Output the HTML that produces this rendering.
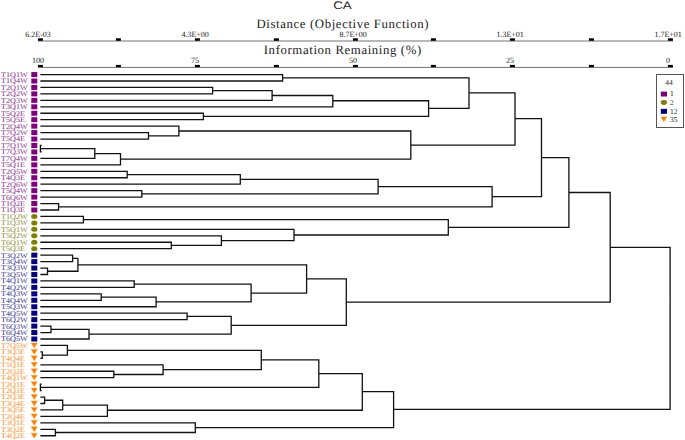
<!DOCTYPE html>
<html><head><meta charset="utf-8"><style>
html,body{margin:0;padding:0;background:#fff;width:685px;height:440px;overflow:hidden}
svg{display:block;text-rendering:geometricPrecision}
.s{font-family:"Liberation Serif",serif}
.a{font-family:"Liberation Sans",sans-serif}
</style></head><body>
<svg width="685" height="440" viewBox="0 0 685 440">
<text class="a" x="342.4" y="9" font-size="11" text-anchor="middle" textLength="18.5" lengthAdjust="spacingAndGlyphs" fill="#222">CA</text>
<text class="s" x="342.5" y="27.9" font-size="12.8" text-anchor="middle" textLength="172" lengthAdjust="spacing" fill="#222">Distance (Objective Function)</text>
<text class="s" x="342.5" y="54.2" font-size="12.8" text-anchor="middle" textLength="157.5" lengthAdjust="spacing" fill="#222">Information Remaining (%)</text>
<rect x="38" y="40.4" width="635" height="1.2" fill="#8c8c8c"/>
<rect x="38" y="66.9" width="635" height="1.1" fill="#7c7c7c"/>
<rect x="37.9" y="38.3" width="5" height="2.5" fill="#000"/>
<rect x="37.9" y="64.9" width="5" height="2.2" fill="#000"/>
<rect x="115.9" y="38.3" width="5" height="2.5" fill="#000"/>
<rect x="115.9" y="64.9" width="5" height="2.2" fill="#000"/>
<rect x="194.9" y="38.3" width="5" height="2.5" fill="#000"/>
<rect x="194.9" y="64.9" width="5" height="2.2" fill="#000"/>
<rect x="273.9" y="38.3" width="5" height="2.5" fill="#000"/>
<rect x="273.9" y="64.9" width="5" height="2.2" fill="#000"/>
<rect x="352.9" y="38.3" width="5" height="2.5" fill="#000"/>
<rect x="352.9" y="64.9" width="5" height="2.2" fill="#000"/>
<rect x="430.9" y="38.3" width="5" height="2.5" fill="#000"/>
<rect x="430.9" y="64.9" width="5" height="2.2" fill="#000"/>
<rect x="509.9" y="38.3" width="5" height="2.5" fill="#000"/>
<rect x="509.9" y="64.9" width="5" height="2.2" fill="#000"/>
<rect x="588.9" y="38.3" width="5" height="2.5" fill="#000"/>
<rect x="588.9" y="64.9" width="5" height="2.2" fill="#000"/>
<rect x="667.9" y="38.3" width="5" height="2.5" fill="#000"/>
<rect x="667.9" y="64.9" width="5" height="2.2" fill="#000"/>
<text class="s" x="38.1" y="37" font-size="8" text-anchor="middle" fill="#222">6.2E-03</text>
<text class="s" x="195.1" y="37" font-size="8" text-anchor="middle" fill="#222">4.3E+00</text>
<text class="s" x="353.1" y="37" font-size="8" text-anchor="middle" fill="#222">8.7E+00</text>
<text class="s" x="510.1" y="37" font-size="8" text-anchor="middle" fill="#222">1.3E+01</text>
<text class="s" x="668.1" y="37" font-size="8" text-anchor="middle" fill="#222">1.7E+01</text>
<text class="s" x="38.1" y="63" font-size="8" text-anchor="middle" fill="#222">100</text>
<text class="s" x="195.1" y="63" font-size="8" text-anchor="middle" fill="#222">75</text>
<text class="s" x="353.1" y="63" font-size="8" text-anchor="middle" fill="#222">50</text>
<text class="s" x="510.1" y="63" font-size="8" text-anchor="middle" fill="#222">25</text>
<text class="s" x="668.1" y="63" font-size="8" text-anchor="middle" fill="#222">0</text>
<path d="M610.2 247.32H670.1 M393.6 409.3H670.1 M670.1 247.32V409.3 M568.9 192.52H610.2 M346.3 302.11H610.2 M610.2 192.52V302.11 M541.5 157.7H568.9 M448.3 227.33H568.9 M568.9 157.7V227.33 M515 118.7H541.5 M492.1 196.7H541.5 M541.5 118.7V196.7 M469 92.8H515 M410.8 145.1H515 M515 92.8V145.1 M282.6 77.78H469 M428.6 108.35H469 M469 77.78V108.35 M41 74.55H282.6 M41 81H282.6 M282.6 74.55V81 M332.8 100.75H428.6 M203.4 116.47H428.6 M428.6 100.75V116.47 M272.1 95.51H332.8 M41 106.8H332.8 M332.8 95.51V106.8 M212.6 90.68H272.1 M41 100.35H272.1 M272.1 90.68V100.35 M41 87.45H212.6 M41 93.9H212.6 M212.6 87.45V93.9 M41 113.25H203.4 M41 119.7H203.4 M203.4 113.25V119.7 M178.9 130.99H410.8 M120.5 159.21H410.8 M410.8 130.99V159.21 M41 126.15H178.9 M148.5 135.82H178.9 M178.9 126.15V135.82 M41 132.6H148.5 M41 139.05H148.5 M148.5 132.6V139.05 M94.8 153.56H120.5 M41 164.85H120.5 M120.5 153.56V164.85 M40.4 148.72H94.8 M41 158.4H94.8 M94.8 148.72V158.4 M41 145.5H40.4 M41 151.95H40.4 M40.4 145.5V151.95 M378.1 186.62H492.1 M58.6 206.78H492.1 M492.1 186.62V206.78 M240.3 179.36H378.1 M141.8 193.88H378.1 M378.1 179.36V193.88 M127.2 174.53H240.3 M41 184.2H240.3 M240.3 174.53V184.2 M41 171.3H127.2 M41 177.75H127.2 M127.2 171.3V177.75 M41 190.65H141.8 M41 197.1H141.8 M141.8 190.65V197.1 M41 203.55H58.6 M41 210H58.6 M58.6 203.55V210 M83.4 219.67H448.3 M294 234.99H448.3 M448.3 219.67V234.99 M41 216.45H83.4 M41 222.9H83.4 M83.4 216.45V222.9 M41 229.35H294 M221.4 240.64H294 M294 229.35V240.64 M41 235.8H221.4 M171.3 245.47H221.4 M221.4 235.8V245.47 M41 242.25H171.3 M41 248.7H171.3 M171.3 242.25V248.7 M306.6 278.93H346.3 M231.2 325.29H346.3 M346.3 278.93V325.29 M77.9 264.82H306.6 M251.1 293.04H306.6 M306.6 264.82V293.04 M72.6 258.38H77.9 M47.5 271.27H77.9 M77.9 258.38V271.27 M41 255.15H72.6 M41 261.6H72.6 M72.6 255.15V261.6 M41 268.05H47.5 M41 274.5H47.5 M47.5 268.05V274.5 M134.2 284.17H251.1 M156.1 301.91H251.1 M251.1 284.17V301.91 M41 280.95H134.2 M41 287.4H134.2 M134.2 280.95V287.4 M101.2 297.08H156.1 M41 306.75H156.1 M156.1 297.08V306.75 M41 293.85H101.2 M41 300.3H101.2 M101.2 293.85V300.3 M187.1 316.42H231.2 M89 334.16H231.2 M231.2 316.42V334.16 M41 313.2H187.1 M41 319.65H187.1 M187.1 313.2V319.65 M51 329.33H89 M41 339H89 M89 329.33V339 M41 326.1H51 M41 332.55H51 M51 326.1V332.55 M362.3 391.7H393.6 M195.3 427.69H393.6 M393.6 391.7V427.69 M318.8 373.67H362.3 M107.4 410.25H362.3 M362.3 373.67V410.25 M261.3 359.96H318.8 M40.4 387.38H318.8 M318.8 359.96V387.38 M67.4 350.29H261.3 M163.1 369.64H261.3 M261.3 350.29V369.64 M41 345.45H67.4 M42.3 355.12H67.4 M67.4 345.45V355.12 M41 351.9H42.3 M41 358.35H42.3 M42.3 351.9V358.35 M41 364.8H163.1 M113.8 374.48H163.1 M163.1 364.8V374.48 M41 371.25H113.8 M41 377.7H113.8 M113.8 371.25V377.7 M41 384.15H40.4 M41 390.6H40.4 M40.4 384.15V390.6 M62.7 405.11H107.4 M41 416.4H107.4 M107.4 405.11V416.4 M44.6 400.27H62.7 M41 409.95H62.7 M62.7 400.27V409.95 M41 397.05H44.6 M41 403.5H44.6 M44.6 397.05V403.5 M41 422.85H195.3 M55.4 432.52H195.3 M195.3 422.85V432.52 M41 429.3H55.4 M41 435.75H55.4 M55.4 429.3V435.75" stroke="#111" stroke-width="1.3" fill="none" stroke-linecap="square"/>
<text class="s" x="1" y="76.95" font-size="7.2" textLength="26.71" lengthAdjust="spacingAndGlyphs" fill="#8a2a8a">T1Q1W</text>
<rect x="31.3" y="72.05" width="6" height="5" fill="#800080"/>
<text class="s" x="1" y="83.4" font-size="7.2" textLength="26.71" lengthAdjust="spacingAndGlyphs" fill="#8a2a8a">T1Q4W</text>
<rect x="31.3" y="78.5" width="6" height="5" fill="#800080"/>
<text class="s" x="1" y="89.85" font-size="7.2" textLength="26.71" lengthAdjust="spacingAndGlyphs" fill="#8a2a8a">T2Q1W</text>
<rect x="31.3" y="84.95" width="6" height="5" fill="#800080"/>
<text class="s" x="1" y="96.3" font-size="7.2" textLength="26.71" lengthAdjust="spacingAndGlyphs" fill="#8a2a8a">T2Q2W</text>
<rect x="31.3" y="91.4" width="6" height="5" fill="#800080"/>
<text class="s" x="1" y="102.75" font-size="7.2" textLength="26.71" lengthAdjust="spacingAndGlyphs" fill="#8a2a8a">T2Q3W</text>
<rect x="31.3" y="97.85" width="6" height="5" fill="#800080"/>
<text class="s" x="1" y="109.2" font-size="7.2" textLength="26.71" lengthAdjust="spacingAndGlyphs" fill="#8a2a8a">T3Q1W</text>
<rect x="31.3" y="104.3" width="6" height="5" fill="#800080"/>
<text class="s" x="1" y="115.65" font-size="7.2" textLength="23.99" lengthAdjust="spacingAndGlyphs" fill="#8a2a8a">T5Q2E</text>
<rect x="31.3" y="110.75" width="6" height="5" fill="#800080"/>
<text class="s" x="1" y="122.1" font-size="7.2" textLength="23.99" lengthAdjust="spacingAndGlyphs" fill="#8a2a8a">T5Q5E</text>
<rect x="31.3" y="117.2" width="6" height="5" fill="#800080"/>
<text class="s" x="1" y="128.55" font-size="7.2" textLength="26.71" lengthAdjust="spacingAndGlyphs" fill="#8a2a8a">T2Q4W</text>
<rect x="31.3" y="123.65" width="6" height="5" fill="#800080"/>
<text class="s" x="1" y="135" font-size="7.2" textLength="26.71" lengthAdjust="spacingAndGlyphs" fill="#8a2a8a">T7Q2W</text>
<rect x="31.3" y="130.1" width="6" height="5" fill="#800080"/>
<text class="s" x="1" y="141.45" font-size="7.2" textLength="23.99" lengthAdjust="spacingAndGlyphs" fill="#8a2a8a">T5Q4E</text>
<rect x="31.3" y="136.55" width="6" height="5" fill="#800080"/>
<text class="s" x="1" y="147.9" font-size="7.2" textLength="26.71" lengthAdjust="spacingAndGlyphs" fill="#8a2a8a">T7Q1W</text>
<rect x="31.3" y="143" width="6" height="5" fill="#800080"/>
<text class="s" x="1" y="154.35" font-size="7.2" textLength="26.71" lengthAdjust="spacingAndGlyphs" fill="#8a2a8a">T7Q3W</text>
<rect x="31.3" y="149.45" width="6" height="5" fill="#800080"/>
<text class="s" x="1" y="160.8" font-size="7.2" textLength="26.71" lengthAdjust="spacingAndGlyphs" fill="#8a2a8a">T7Q4W</text>
<rect x="31.3" y="155.9" width="6" height="5" fill="#800080"/>
<text class="s" x="1" y="167.25" font-size="7.2" textLength="23.99" lengthAdjust="spacingAndGlyphs" fill="#8a2a8a">T5Q1E</text>
<rect x="31.3" y="162.35" width="6" height="5" fill="#800080"/>
<text class="s" x="1" y="173.7" font-size="7.2" textLength="26.71" lengthAdjust="spacingAndGlyphs" fill="#8a2a8a">T2Q5W</text>
<rect x="31.3" y="168.8" width="6" height="5" fill="#800080"/>
<text class="s" x="1" y="180.15" font-size="7.2" textLength="23.99" lengthAdjust="spacingAndGlyphs" fill="#8a2a8a">T4Q3E</text>
<rect x="31.3" y="175.25" width="6" height="5" fill="#800080"/>
<text class="s" x="1" y="186.6" font-size="7.2" textLength="26.71" lengthAdjust="spacingAndGlyphs" fill="#8a2a8a">T2Q6W</text>
<rect x="31.3" y="181.7" width="6" height="5" fill="#800080"/>
<text class="s" x="1" y="193.05" font-size="7.2" textLength="26.71" lengthAdjust="spacingAndGlyphs" fill="#8a2a8a">T5Q4W</text>
<rect x="31.3" y="188.15" width="6" height="5" fill="#800080"/>
<text class="s" x="1" y="199.5" font-size="7.2" textLength="26.71" lengthAdjust="spacingAndGlyphs" fill="#8a2a8a">T6Q6W</text>
<rect x="31.3" y="194.6" width="6" height="5" fill="#800080"/>
<text class="s" x="1" y="205.95" font-size="7.2" textLength="23.99" lengthAdjust="spacingAndGlyphs" fill="#8a2a8a">T1Q2E</text>
<rect x="31.3" y="201.05" width="6" height="5" fill="#800080"/>
<text class="s" x="1" y="212.4" font-size="7.2" textLength="23.99" lengthAdjust="spacingAndGlyphs" fill="#8a2a8a">T1Q3E</text>
<rect x="31.3" y="207.5" width="6" height="5" fill="#800080"/>
<text class="s" x="1" y="218.85" font-size="7.2" textLength="26.71" lengthAdjust="spacingAndGlyphs" fill="#8a8a30">T1Q2W</text>
<ellipse cx="34.3" cy="216.45" rx="3.1" ry="2.5" fill="#808000"/>
<text class="s" x="1" y="225.3" font-size="7.2" textLength="26.71" lengthAdjust="spacingAndGlyphs" fill="#8a8a30">T1Q3W</text>
<ellipse cx="34.3" cy="222.9" rx="3.1" ry="2.5" fill="#808000"/>
<text class="s" x="1" y="231.75" font-size="7.2" textLength="26.71" lengthAdjust="spacingAndGlyphs" fill="#8a8a30">T5Q1W</text>
<ellipse cx="34.3" cy="229.35" rx="3.1" ry="2.5" fill="#808000"/>
<text class="s" x="1" y="238.2" font-size="7.2" textLength="26.71" lengthAdjust="spacingAndGlyphs" fill="#8a8a30">T5Q2W</text>
<ellipse cx="34.3" cy="235.8" rx="3.1" ry="2.5" fill="#808000"/>
<text class="s" x="1" y="244.65" font-size="7.2" textLength="26.71" lengthAdjust="spacingAndGlyphs" fill="#8a8a30">T6Q1W</text>
<ellipse cx="34.3" cy="242.25" rx="3.1" ry="2.5" fill="#808000"/>
<text class="s" x="1" y="251.1" font-size="7.2" textLength="23.99" lengthAdjust="spacingAndGlyphs" fill="#8a8a30">T5Q3E</text>
<ellipse cx="34.3" cy="248.7" rx="3.1" ry="2.5" fill="#808000"/>
<text class="s" x="1" y="257.55" font-size="7.2" textLength="26.71" lengthAdjust="spacingAndGlyphs" fill="#303090">T3Q2W</text>
<rect x="31.3" y="252.65" width="6" height="5" fill="#000080"/>
<text class="s" x="1" y="264" font-size="7.2" textLength="26.71" lengthAdjust="spacingAndGlyphs" fill="#303090">T3Q4W</text>
<rect x="31.3" y="259.1" width="6" height="5" fill="#000080"/>
<text class="s" x="1" y="270.45" font-size="7.2" textLength="26.71" lengthAdjust="spacingAndGlyphs" fill="#303090">T3Q3W</text>
<rect x="31.3" y="265.55" width="6" height="5" fill="#000080"/>
<text class="s" x="1" y="276.9" font-size="7.2" textLength="26.71" lengthAdjust="spacingAndGlyphs" fill="#303090">T3Q5W</text>
<rect x="31.3" y="272" width="6" height="5" fill="#000080"/>
<text class="s" x="1" y="283.35" font-size="7.2" textLength="26.71" lengthAdjust="spacingAndGlyphs" fill="#303090">T4Q1W</text>
<rect x="31.3" y="278.45" width="6" height="5" fill="#000080"/>
<text class="s" x="1" y="289.8" font-size="7.2" textLength="26.71" lengthAdjust="spacingAndGlyphs" fill="#303090">T4Q2W</text>
<rect x="31.3" y="284.9" width="6" height="5" fill="#000080"/>
<text class="s" x="1" y="296.25" font-size="7.2" textLength="26.71" lengthAdjust="spacingAndGlyphs" fill="#303090">T4Q3W</text>
<rect x="31.3" y="291.35" width="6" height="5" fill="#000080"/>
<text class="s" x="1" y="302.7" font-size="7.2" textLength="26.71" lengthAdjust="spacingAndGlyphs" fill="#303090">T4Q4W</text>
<rect x="31.3" y="297.8" width="6" height="5" fill="#000080"/>
<text class="s" x="1" y="309.15" font-size="7.2" textLength="26.71" lengthAdjust="spacingAndGlyphs" fill="#303090">T5Q3W</text>
<rect x="31.3" y="304.25" width="6" height="5" fill="#000080"/>
<text class="s" x="1" y="315.6" font-size="7.2" textLength="26.71" lengthAdjust="spacingAndGlyphs" fill="#303090">T4Q5W</text>
<rect x="31.3" y="310.7" width="6" height="5" fill="#000080"/>
<text class="s" x="1" y="322.05" font-size="7.2" textLength="26.71" lengthAdjust="spacingAndGlyphs" fill="#303090">T6Q2W</text>
<rect x="31.3" y="317.15" width="6" height="5" fill="#000080"/>
<text class="s" x="1" y="328.5" font-size="7.2" textLength="26.71" lengthAdjust="spacingAndGlyphs" fill="#303090">T6Q3W</text>
<rect x="31.3" y="323.6" width="6" height="5" fill="#000080"/>
<text class="s" x="1" y="334.95" font-size="7.2" textLength="26.71" lengthAdjust="spacingAndGlyphs" fill="#303090">T6Q4W</text>
<rect x="31.3" y="330.05" width="6" height="5" fill="#000080"/>
<text class="s" x="1" y="341.4" font-size="7.2" textLength="26.71" lengthAdjust="spacingAndGlyphs" fill="#303090">T6Q5W</text>
<rect x="31.3" y="336.5" width="6" height="5" fill="#000080"/>
<text class="s" x="1" y="347.85" font-size="7.2" textLength="26.71" lengthAdjust="spacingAndGlyphs" fill="#ff8c1a">T7Q5W</text>
<path d="M31.1 342.95H37.4L34.25 347.85Z" fill="#FF8000" stroke="#FF8000" stroke-width="0.3" stroke-linejoin="round"/>
<text class="s" x="1" y="354.3" font-size="7.2" textLength="23.99" lengthAdjust="spacingAndGlyphs" fill="#ff8c1a">T3Q3E</text>
<path d="M31.1 349.4H37.4L34.25 354.3Z" fill="#FF8000" stroke="#FF8000" stroke-width="0.3" stroke-linejoin="round"/>
<text class="s" x="1" y="360.75" font-size="7.2" textLength="23.99" lengthAdjust="spacingAndGlyphs" fill="#ff8c1a">T4Q4E</text>
<path d="M31.1 355.85H37.4L34.25 360.75Z" fill="#FF8000" stroke="#FF8000" stroke-width="0.3" stroke-linejoin="round"/>
<text class="s" x="1" y="367.2" font-size="7.2" textLength="23.99" lengthAdjust="spacingAndGlyphs" fill="#ff8c1a">T1Q1E</text>
<path d="M31.1 362.3H37.4L34.25 367.2Z" fill="#FF8000" stroke="#FF8000" stroke-width="0.3" stroke-linejoin="round"/>
<text class="s" x="1" y="373.65" font-size="7.2" textLength="23.99" lengthAdjust="spacingAndGlyphs" fill="#ff8c1a">T2Q2E</text>
<path d="M31.1 368.75H37.4L34.25 373.65Z" fill="#FF8000" stroke="#FF8000" stroke-width="0.3" stroke-linejoin="round"/>
<text class="s" x="1" y="380.1" font-size="7.2" textLength="26.71" lengthAdjust="spacingAndGlyphs" fill="#ff8c1a">T4Q1W</text>
<path d="M31.1 375.2H37.4L34.25 380.1Z" fill="#FF8000" stroke="#FF8000" stroke-width="0.3" stroke-linejoin="round"/>
<text class="s" x="1" y="386.55" font-size="7.2" textLength="23.99" lengthAdjust="spacingAndGlyphs" fill="#ff8c1a">T2Q1E</text>
<path d="M31.1 381.65H37.4L34.25 386.55Z" fill="#FF8000" stroke="#FF8000" stroke-width="0.3" stroke-linejoin="round"/>
<text class="s" x="1" y="393" font-size="7.2" textLength="23.99" lengthAdjust="spacingAndGlyphs" fill="#ff8c1a">T2Q1E</text>
<path d="M31.1 388.1H37.4L34.25 393Z" fill="#FF8000" stroke="#FF8000" stroke-width="0.3" stroke-linejoin="round"/>
<text class="s" x="1" y="399.45" font-size="7.2" textLength="23.99" lengthAdjust="spacingAndGlyphs" fill="#ff8c1a">T2Q3E</text>
<path d="M31.1 394.55H37.4L34.25 399.45Z" fill="#FF8000" stroke="#FF8000" stroke-width="0.3" stroke-linejoin="round"/>
<text class="s" x="1" y="405.9" font-size="7.2" textLength="23.99" lengthAdjust="spacingAndGlyphs" fill="#ff8c1a">T3Q4E</text>
<path d="M31.1 401H37.4L34.25 405.9Z" fill="#FF8000" stroke="#FF8000" stroke-width="0.3" stroke-linejoin="round"/>
<text class="s" x="1" y="412.35" font-size="7.2" textLength="23.99" lengthAdjust="spacingAndGlyphs" fill="#ff8c1a">T3Q5E</text>
<path d="M31.1 407.45H37.4L34.25 412.35Z" fill="#FF8000" stroke="#FF8000" stroke-width="0.3" stroke-linejoin="round"/>
<text class="s" x="1" y="418.8" font-size="7.2" textLength="23.99" lengthAdjust="spacingAndGlyphs" fill="#ff8c1a">T2Q4E</text>
<path d="M31.1 413.9H37.4L34.25 418.8Z" fill="#FF8000" stroke="#FF8000" stroke-width="0.3" stroke-linejoin="round"/>
<text class="s" x="1" y="425.25" font-size="7.2" textLength="23.99" lengthAdjust="spacingAndGlyphs" fill="#ff8c1a">T3Q1E</text>
<path d="M31.1 420.35H37.4L34.25 425.25Z" fill="#FF8000" stroke="#FF8000" stroke-width="0.3" stroke-linejoin="round"/>
<text class="s" x="1" y="431.7" font-size="7.2" textLength="23.99" lengthAdjust="spacingAndGlyphs" fill="#ff8c1a">T3Q2E</text>
<path d="M31.1 426.8H37.4L34.25 431.7Z" fill="#FF8000" stroke="#FF8000" stroke-width="0.3" stroke-linejoin="round"/>
<text class="s" x="1" y="438.15" font-size="7.2" textLength="23.99" lengthAdjust="spacingAndGlyphs" fill="#ff8c1a">T4Q2E</text>
<path d="M31.1 433.25H37.4L34.25 438.15Z" fill="#FF8000" stroke="#FF8000" stroke-width="0.3" stroke-linejoin="round"/>
<rect x="656.5" y="74.5" width="27" height="53" fill="#fff" stroke="#555" stroke-width="1"/>
<text class="s" x="668.9" y="84.7" font-size="7.5" text-anchor="middle" fill="#333">44</text>
<rect x="660.8" y="91.6" width="6.2" height="4.9" fill="#800080"/>
<ellipse cx="663.9" cy="102.5" rx="3.1" ry="2.4" fill="#808000"/>
<rect x="660.8" y="108.9" width="6.2" height="4.9" fill="#000080"/>
<path d="M660.6 116.7H667.2L663.9 122Z" fill="#FF8000"/>
<text class="s" x="670" y="96.4" font-size="7.5" fill="#222">1</text>
<text class="s" x="670" y="104.9" font-size="7.5" fill="#222">2</text>
<text class="s" x="670" y="113.8" font-size="7.5" fill="#222">12</text>
<text class="s" x="670" y="121.9" font-size="7.5" fill="#222">35</text>
</svg>
</body></html>
